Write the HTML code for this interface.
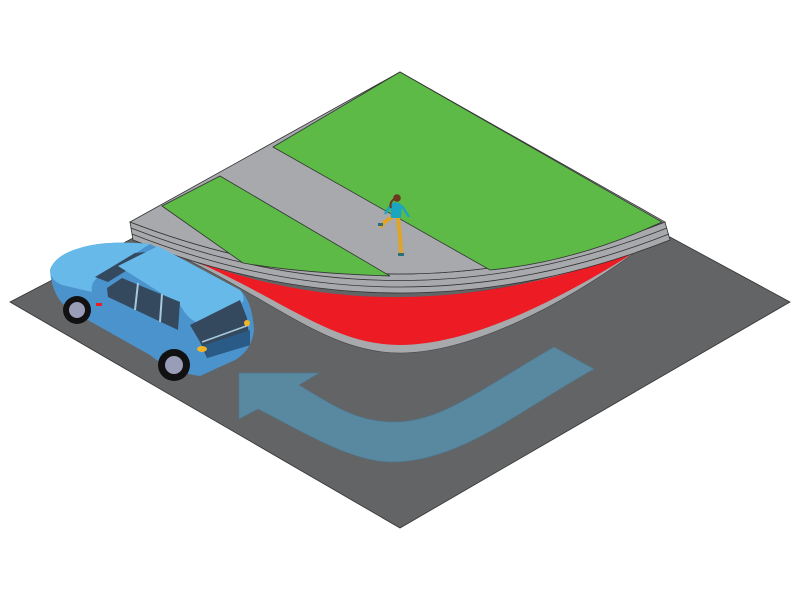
<!DOCTYPE html>
<html><head><meta charset="utf-8"><style>html,body{margin:0;padding:0;background:#fff}svg{display:block}</style></head>
<body>
<svg width="800" height="600" viewBox="0 0 800 600" xmlns="http://www.w3.org/2000/svg">
<polygon points="10,302 135,237 670,237 790,302 400,528" fill="#636466" stroke="#333" stroke-width="0.8"/>
<path d="M180,256 Q400,345 645,245 C565,305 470,353 400,353 C330,353 280,305 180,256 Z" fill="#a7a9ac" stroke="#444" stroke-width="0.6"/>
<path d="M188,258 Q400,340 638,250 C560,300 470,345 400,345 C332,345 285,300 188,258 Z" fill="#ed1c24"/>
<path d="M130,222 Q400,326 665,222 L670,240 Q400,346 133,240 Z" fill="#a7a9ac" stroke="#333" stroke-width="0.8"/>
<path d="M131,228 Q400,333 667,228" fill="none" stroke="#333" stroke-width="0.8"/>
<path d="M132,234 Q400,340 669,234" fill="none" stroke="#333" stroke-width="0.8"/>
<path d="M130,222 L400,72 L665,222 Q400,326 130,222 Z" fill="#a7a9ac" stroke="#333" stroke-width="0.8"/>
<path d="M273,147 L400,72 L662,222 Q575,262 490,270 Z" fill="#5dba47" stroke="#333" stroke-width="0.8"/>
<path d="M162,206 L220,176 L390,276 Q300,273 243,263 Z" fill="#5dba47" stroke="#333" stroke-width="0.8"/>
<path d="M239,373 L319,373 L299,385 C340,410 360,422 395,422 C440,422 480,390 554,347 L594,369 C520,410 460,462 392,462 C350,462 300,430 258,409 L239,419 Z" fill="#5889a0" stroke="#4d7890" stroke-width="0.6"/>
<g>
<path d="M392,217 L385,222 L381,226 M398,218 L400,236 L401,254" stroke="#e0a526" stroke-width="4" fill="none" stroke-linecap="round"/>
<path d="M390,204 Q396,200 402,205 L401,218 L391,218 Z" fill="#1ba5be"/>
<path d="M402,206 L409,217 M390,206 L385,214" stroke="#1ba5be" stroke-width="2.5" fill="none"/>
<circle cx="397" cy="198" r="3.8" fill="#6b3a1e"/>
<path d="M394,199 Q389,203 391,208" stroke="#6b3a1e" stroke-width="2" fill="none"/>
<rect x="378" y="223" width="5" height="3" fill="#2a6f7a"/>
<rect x="398" y="253" width="6" height="3" fill="#2a6f7a"/>
</g>
<g>
<path d="M50,270 Q55,255 80,248 Q105,240 150,244 L240,290 Q252,300 254,330 Q252,350 235,360 L200,376 Q170,372 150,355 L70,310 Q52,298 50,270 Z" fill="#4a93cc"/>
<path d="M50,270 Q55,255 80,248 Q105,240 150,244 L100,276 Q90,282 92,292 L62,285 Q50,280 50,270 Z" fill="#66b9e8"/>
<polygon points="95,277 135,253 158,251 108,282" fill="#34495e"/>
<path d="M118,266 L158,246 L240,290 Q245,296 243,302 L198,322 Q190,322 180,305 Z" fill="#66b9e8"/>
<polygon points="107,288 122,278 180,302 178,330 108,297" fill="#34495e"/>
<line x1="138" y1="283" x2="135" y2="310" stroke="#a9c8dc" stroke-width="2"/>
<line x1="162" y1="294" x2="160" y2="322" stroke="#a9c8dc" stroke-width="2"/>
<polygon points="190,325 240,300 247,318 250,345 207,358 200,342" fill="#34495e"/>
<polygon points="205,345 250,330 250,345 207,358" fill="#2a5a86"/>
<line x1="202" y1="342" x2="249" y2="325" stroke="#a9c8dc" stroke-width="1.5"/>
<ellipse cx="202" cy="349" rx="5" ry="3" fill="#f0b429"/>
<ellipse cx="247" cy="323" rx="3" ry="3" fill="#f0b429"/>
<rect x="96" y="303" width="6" height="3" fill="#ed1c24"/>
<circle cx="77" cy="310" r="14" fill="#111"/>
<circle cx="77" cy="310" r="8" fill="#9a9db8"/>
<circle cx="174" cy="365" r="16" fill="#111"/>
<circle cx="174" cy="365" r="9" fill="#9a9db8"/>
</g>
</svg>
</body></html>
